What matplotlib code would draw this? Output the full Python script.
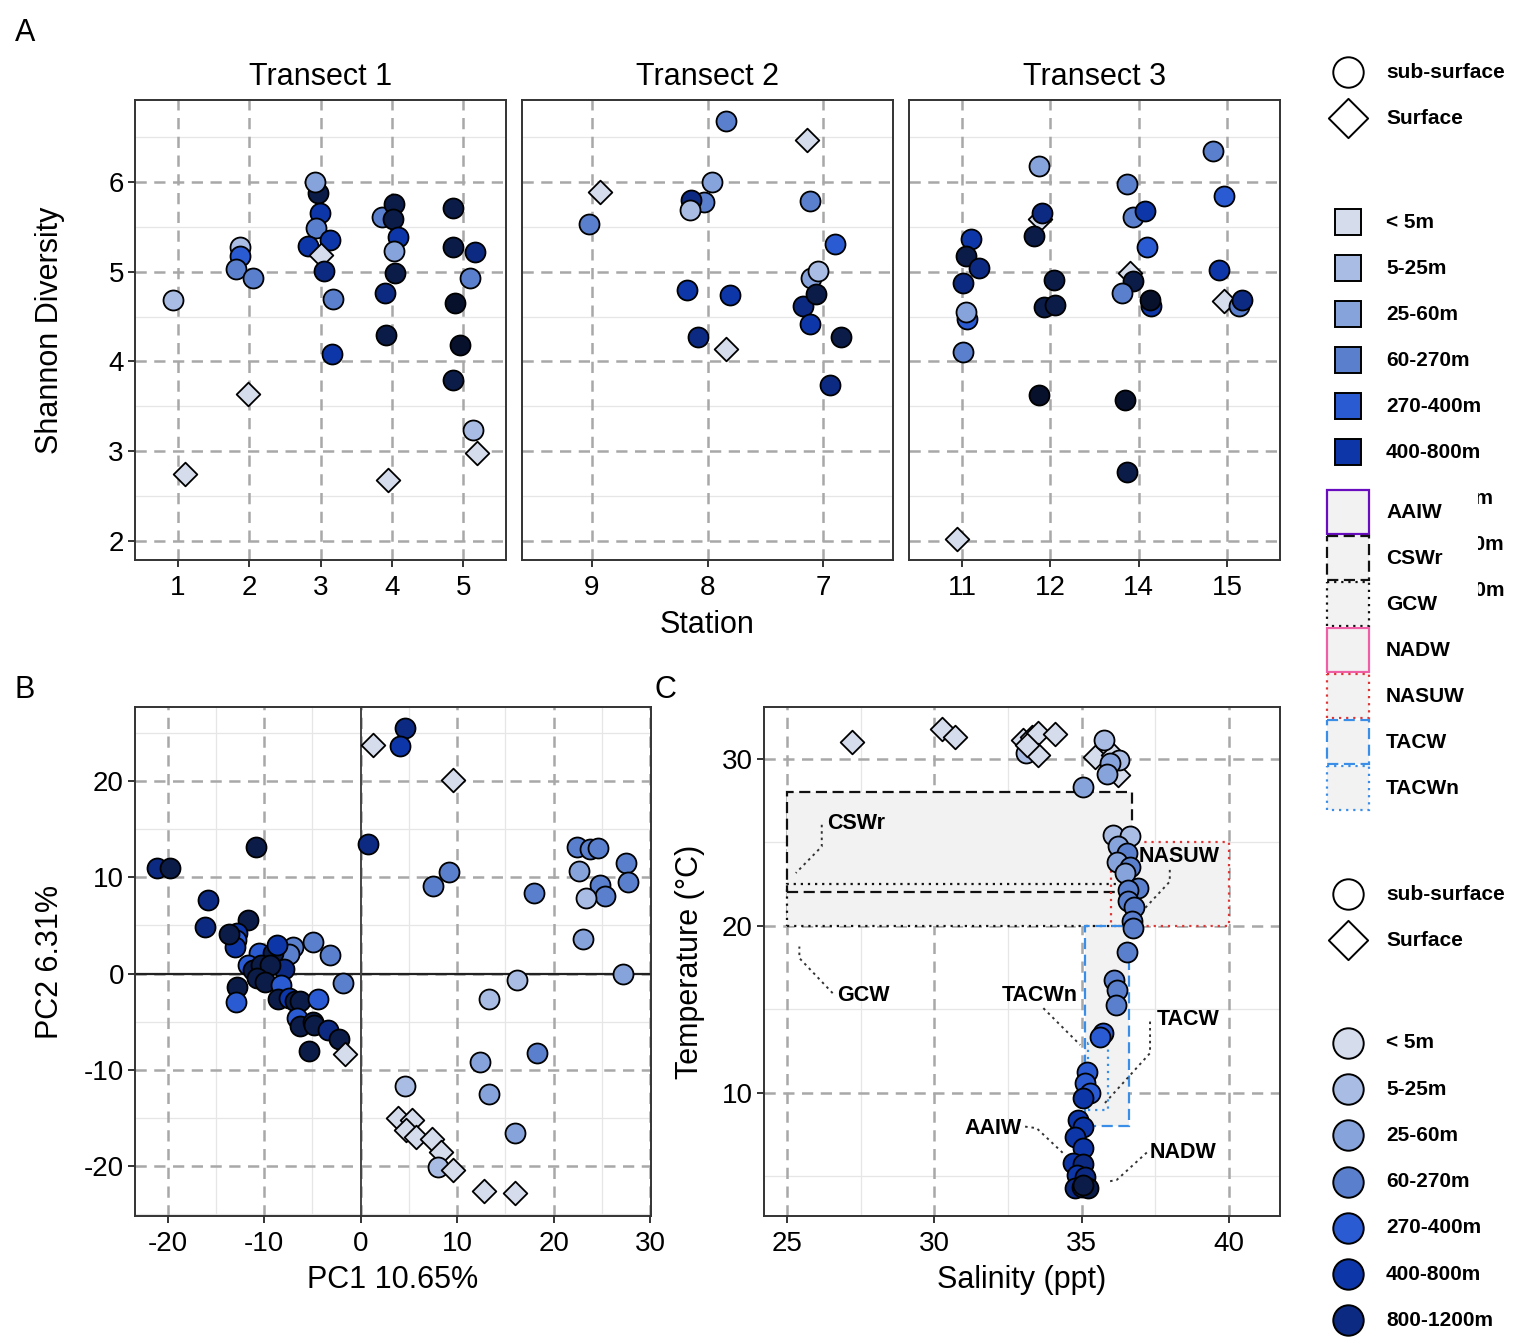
import matplotlib
matplotlib.use('Agg')
import matplotlib.pyplot as plt
from matplotlib.patches import Rectangle
import numpy as np

plt.rcParams['font.family'] = ['Liberation Sans', 'DejaVu Sans']
plt.rcParams['axes.unicode_minus'] = False

# ---------------- data ----------------
depth_levels = ['< 5m', '5-25m', '25-60m', '60-270m', '270-400m', '400-800m',
                '800-1200m', '1200-2000m', '2000-4000m']
depth_colors = ['#d5dcec', '#a9bce3', '#87a3dc', '#5a7fcc', '#2a5bd3', '#0d37a8',
                '#0c2a82', '#0b1c48', '#08112b']
sample_types = ['sub-surface', 'Surface']

transect_names = ['Transect 1', 'Transect 2', 'Transect 3']
transect_stations = [['1', '2', '3', '4', '5'], ['9', '8', '7'], ['11', '12', '14', '15']]

# Panel A: (station position incl. jitter, Shannon diversity, depth code, surface flag)
t1_x = [0.93, 1.10, 1.87, 1.87, 1.81, 2.06, 1.99,
        2.96, 2.92, 2.99, 2.94, 2.82, 3.14, 3.01, 3.05, 3.18, 3.16,
        3.86, 4.03, 4.01, 4.08, 4.03, 4.05, 3.90, 3.92, 3.95,
        4.86, 4.86, 5.16, 5.10, 4.89, 4.96, 4.86, 5.14, 5.20]
t1_y = [4.68, 2.75, 5.27, 5.17, 5.03, 4.93, 3.64,
        5.87, 6.00, 5.65, 5.49, 5.29, 5.35, 5.19, 5.01, 4.69, 4.08,
        5.61, 5.75, 5.58, 5.39, 5.23, 4.98, 4.76, 4.29, 2.68,
        5.71, 5.27, 5.22, 4.93, 4.65, 4.18, 3.79, 3.24, 2.98]
t1_d = [1, 0, 1, 4, 3, 3, 0,
        7, 2, 5, 3, 5, 5, 0, 6, 3, 5,
        3, 7, 7, 5, 2, 7, 6, 7, 0,
        7, 7, 6, 3, 8, 8, 7, 1, 0]
t1_s = [0, 1, 0, 0, 0, 0, 1,
        0, 0, 0, 0, 0, 0, 1, 0, 0, 0,
        0, 0, 0, 0, 0, 0, 0, 0, 1,
        0, 0, 0, 0, 0, 0, 0, 0, 1]

t2_x = [2.16, 2.86, 2.04, 1.07, 1.97, 1.86, 1.85, 2.88, 0.98, 3.10, 2.89, 2.95,
        2.82, 2.94, 2.88, 3.15, 1.82, 2.19, 1.92, 2.16, 3.06]
t2_y = [6.68, 6.47, 6.00, 5.89, 5.78, 5.80, 5.69, 5.79, 5.53, 5.31, 4.93, 5.01,
        4.62, 4.75, 4.42, 4.27, 4.80, 4.74, 4.27, 4.14, 3.74]
t2_d = [3, 0, 2, 0, 3, 6, 1, 3, 3, 4, 2, 1, 6, 7, 5, 7, 5, 5, 6, 0, 6]
t2_s = [0, 1, 0, 1, 0, 0, 0, 0, 0, 0, 0, 0, 0, 0, 0, 0, 0, 0, 0, 1, 0]

t3_x = [3.84, 1.87, 2.87, 3.97, 2.94, 3.07, 1.88, 1.91, 1.82, 1.10, 1.04, 1.19,
        1.01, 1.06, 1.04, 1.01, 2.04, 1.93, 2.05, 1.87, 2.90, 2.94, 2.81, 3.14,
        3.13, 3.09, 3.91, 3.97, 4.14, 4.17, 2.84, 2.87, 0.94]
t3_y = [6.34, 6.17, 5.97, 5.84, 5.61, 5.68, 5.58, 5.65, 5.40, 5.36, 5.17, 5.04,
        4.87, 4.47, 4.55, 4.10, 4.91, 4.61, 4.63, 3.63, 4.98, 4.90, 4.76, 4.62,
        4.68, 5.27, 5.02, 4.67, 4.62, 4.68, 3.57, 2.77, 2.02]
t3_d = [3, 2, 3, 4, 3, 5, 0, 6, 7, 5, 7, 6,
        6, 4, 2, 3, 7, 7, 7, 8, 0, 7, 3, 5,
        8, 4, 5, 0, 3, 6, 8, 7, 0]
t3_s = [0, 0, 0, 0, 0, 0, 1, 0, 0, 0, 0, 0,
        0, 0, 0, 0, 0, 0, 0, 0, 1, 0, 0, 0,
        0, 0, 0, 1, 0, 0, 0, 0, 1]

# Panel B: PCA scores
pc1 = [-21.1, -19.8, -10.9, -15.8, -16.1, -11.7, -12.8, -12.9, -13.0, -13.7,
       -7.0, -7.4, -4.9, -3.2, -1.8, -10.5, -9.1, -8.7, -11.7, -11.2,
       -10.3, -8.0, -9.4, -10.7, -9.9, -8.3, -12.8, -12.9, -8.6, -7.4,
       -6.8, -6.3, -4.4, -6.6, -6.3, -4.9, -4.8, -3.4, -2.2, -5.4,
       -1.6, 1.3, 4.56, 4.1, 9.6, 0.8, 9.2, 7.5, 18.0, 22.4,
       23.8, 24.6, 27.5, 22.6, 24.8, 27.7, 25.3, 23.4, 23.0, 27.2,
       16.2, 13.3, 18.3, 12.4, 13.3, 16.0, 4.6, 3.9, 5.3, 4.7,
       5.7, 7.4, 8.3, 8.0, 9.6, 12.8, 16.0]
pc2 = [11.0, 11.0, 13.2, 7.6, 4.8, 5.6, 4.2, 3.5, 2.8, 4.1,
       2.8, 2.0, 3.3, 1.9, -1.0, 2.1, 2.1, 3.0, 0.9, 0.4,
       0.9, 0.5, 0.9, -0.5, -0.9, -1.2, -1.4, -3.0, -2.6, -2.5,
       -2.9, -2.9, -2.6, -4.6, -5.5, -5.0, -5.3, -5.9, -6.8, -8.0,
       -8.4, 23.7, 25.5, 23.6, 20.1, 13.5, 10.5, 9.1, 8.4, 13.2,
       12.9, 13.0, 11.5, 10.7, 9.2, 9.5, 8.1, 7.8, 3.6, -0.1,
       -0.7, -2.6, -8.3, -9.2, -12.5, -16.6, -11.7, -15.0, -15.2, -16.3,
       -17.0, -17.2, -18.6, -20.1, -20.4, -22.6, -22.8]
pc_d = [6, 7, 7, 6, 6, 7, 5, 4, 5, 7,
        3, 3, 3, 3, 3, 4, 7, 5, 4, 7,
        7, 6, 7, 7, 7, 4, 7, 4, 7, 5,
        7, 7, 4, 4, 7, 7, 7, 6, 7, 7,
        0, 0, 6, 5, 0, 6, 3, 3, 3, 3,
        3, 3, 3, 2, 3, 3, 3, 1, 2, 2,
        1, 1, 3, 2, 2, 2, 1, 0, 0, 0,
        0, 0, 0, 1, 0, 0, 0]
pc_s = [0] * 40 + [1, 1, 0, 0, 1] + [0] * 22 + [1, 1, 1, 1, 1, 1, 0, 1, 1, 1]

# Panel C: T-S
sal = [27.2, 30.25, 30.7, 33.11, 33.02, 33.3, 33.53, 34.09, 33.53, 33.13,
       35.45, 36.07, 36.24, 35.76, 36.28, 35.96, 35.85, 35.05,
       36.07, 36.64, 36.24, 36.53, 36.19, 36.64, 36.47, 36.92, 36.58, 36.58,
       36.78, 36.70, 36.73, 36.53, 36.11, 36.19, 36.15, 35.73, 35.62,
       35.17, 35.11, 35.28, 35.05, 34.89, 35.03, 34.77, 35.03, 34.72, 35.03,
       34.83, 35.11, 34.77, 35.00, 35.22, 35.03]
temp = [30.98, 31.78, 31.30, 30.34, 31.10, 31.30, 31.54, 31.50, 30.24, 30.80,
        30.10, 30.24, 29.04, 31.14, 29.94, 29.74, 29.10, 28.30,
        25.45, 25.35, 24.75, 24.35, 23.85, 23.55, 23.16, 22.26, 22.12, 21.46,
        21.12, 20.26, 19.90, 18.46, 16.77, 16.17, 15.27, 13.57, 13.33,
        11.28, 10.58, 9.98, 9.68, 8.38, 7.98, 7.38, 6.69, 5.79, 5.75,
        5.09, 4.99, 4.29, 4.35, 4.29, 4.49]
ts_d = [0, 0, 0, 1, 0, 0, 0, 0, 0, 0,
        0, 0, 0, 1, 1, 2, 2, 2,
        1, 1, 2, 3, 2, 3, 2, 3, 3, 3,
        3, 3, 3, 3, 3, 3, 3, 4, 4,
        4, 4, 4, 5, 5, 5, 5, 5, 5, 6,
        5, 6, 6, 6, 7, 7]
ts_s = [1, 1, 1, 0, 1, 1, 1, 1, 1, 1,
        1, 1, 1, 0, 0, 0, 0, 0] + [0] * 35

# Water masses (salinity min/max, temperature min/max)
wm_names = ['AAIW', 'CSWr', 'GCW', 'NADW', 'NASUW', 'TACW', 'TACWn']
wm_colors = ['#6a0dc0', '#111111', '#111111', '#ee5fa7', '#e03535', '#3a8ee8', '#3a8ee8']
wm_styles = ['solid', 'dashed', 'dotted', 'solid', 'dotted', 'dashed', 'dotted']
wm_smin = [None, 25.0, 25.0, None, 36.0, 35.1, 35.2]
wm_smax = [None, 36.7, 36.5, None, 40.0, 36.6, 35.9]
wm_tmin = [None, 22.0, 20.0, None, 20.0, 8.0, 9.0]
wm_tmax = [None, 28.0, 22.5, None, 25.0, 20.0, 13.0]
# label positions and leader paths (salinity, temperature)
lab_names = ['CSWr', 'GCW', 'NASUW', 'TACWn', 'TACW', 'AAIW', 'NADW']
lab_s = [26.35, 26.7, 36.92, 34.87, 37.55, 32.96, 37.32]
lab_t = [26.1, 15.8, 24.15, 15.8, 14.37, 7.89, 6.45]
lab_ha = ['left', 'left', 'left', 'right', 'left', 'right', 'left']
lead_s = [[26.18, 26.18, 25.3], [26.55, 25.42, 25.42], [37.99, 37.99, 37.15],
          [33.70, 34.95], [37.32, 37.32, 35.73], [33.08, 33.47, 34.43],
          [37.21, 36.19, 35.9]]
lead_t = [[26.05, 24.75, 23.16], [15.97, 18.07, 18.76], [23.35, 22.65, 21.06],
          [15.07, 12.87], [14.27, 12.38, 9.28], [7.98, 7.89, 6.29],
          [6.43, 4.79, 4.69]]

# ---------------- figure ----------------
W, H = 1536, 1344
fig = plt.figure(figsize=(W / 100, H / 100), dpi=100)

def rect(x0, y0, x1, y1):
    return [x0 / W, 1 - y1 / H, (x1 - x0) / W, (y1 - y0) / H]

GRID_MAJ = dict(color='#a8a8a8', lw=1.8, ls=(0, (4.5, 3)), zorder=0.5)
GRID_MIN = dict(color='#e6e6e6', lw=0.9, zorder=0.4)
TICK_FS = 20
TITLE_FS = 22

def style_axes(ax):
    for sp in ax.spines.values():
        sp.set_color('#333333')
        sp.set_linewidth(1.4)
    ax.tick_params(length=5, width=1.4, color='#333333', labelsize=TICK_FS,
                   labelcolor='black')
    ax.tick_params(axis='x', pad=6)
    ax.tick_params(axis='y', pad=3)

def draw_points(ax, xs, ys, ds, ss, circ_s=207, dia_s=145):
    for x, y, d, s in zip(xs, ys, ds, ss):
        ax.scatter([x], [y], s=dia_s if s else circ_s, marker='D' if s else 'o',
                   facecolor=depth_colors[d], edgecolor='black', linewidths=1.3,
                   zorder=3)

# Panel A
facet_px = [(135, 506), (522, 893), (909, 1280)]
tdata = [(t1_x, t1_y, t1_d, t1_s), (t2_x, t2_y, t2_d, t2_s), (t3_x, t3_y, t3_d, t3_s)]
ylimA = (1.79, 6.91)
for i, ((x0, x1), stations, name, dat) in enumerate(zip(facet_px, transect_stations,
                                                       transect_names, tdata)):
    ax = fig.add_axes(rect(x0, 100, x1, 560))
    n = len(stations)
    ax.set_xlim(0.4, n + 0.6)
    ax.set_ylim(*ylimA)
    for yv in np.arange(2.5, 7.0, 1.0):
        ax.axhline(yv, **GRID_MIN)
    for yv in range(2, 7):
        ax.axhline(yv, **GRID_MAJ)
    for xv in range(1, n + 1):
        ax.axvline(xv, **GRID_MAJ)
    draw_points(ax, *dat)
    ax.set_xticks(range(1, n + 1))
    ax.set_xticklabels(stations)
    ax.set_yticks(range(2, 7))
    style_axes(ax)
    if i > 0:
        ax.tick_params(axis='y', left=False, labelleft=False)
    ax.text(0.5, 1 + 23 / 460, name, transform=ax.transAxes, ha='center',
            va='center', fontsize=TITLE_FS)

fig.text(50 / W, 1 - 330 / H, 'Shannon Diversity', rotation=90, ha='center',
         va='center', fontsize=TITLE_FS)
fig.text(707 / W, 1 - 625 / H, 'Station', ha='center', va='center', fontsize=TITLE_FS)

# Panel B
axB = fig.add_axes(rect(135, 707, 651, 1216))
axB.set_xlim(-23.4, 30.1)
axB.set_ylim(-25.2, 27.7)
for v in [-15, -5, 5, 15, 25]:
    axB.axvline(v, **GRID_MIN)
for v in [-25, -15, -5, 5, 15, 25]:
    axB.axhline(v, **GRID_MIN)
for v in [-20, -10, 0, 10, 20, 30]:
    axB.axvline(v, **GRID_MAJ)
for v in [-20, -10, 0, 10, 20]:
    axB.axhline(v, **GRID_MAJ)
axB.axhline(0, color='#222222', lw=1.6, zorder=1)
axB.axvline(0, color='#444444', lw=1.4, zorder=1)
draw_points(axB, pc1, pc2, pc_d, pc_s)
axB.set_xticks([-20, -10, 0, 10, 20, 30])
axB.set_yticks([-20, -10, 0, 10, 20])
style_axes(axB)
fig.text(393 / W, 1 - 1280 / H, 'PC1 10.65%', ha='center', va='center', fontsize=TITLE_FS)
fig.text(50 / W, 1 - 962 / H, 'PC2 6.31%', rotation=90, ha='center', va='center',
         fontsize=TITLE_FS)

# Panel C
axC = fig.add_axes(rect(764, 707, 1280, 1216))
axC.set_xlim(24.22, 41.73)
axC.set_ylim(2.63, 33.1)
for v in [27.5, 32.5, 37.5]:
    axC.axvline(v, **GRID_MIN)
for v in [5, 15, 25]:
    axC.axhline(v, **GRID_MIN)
for v in [25, 30, 35, 40]:
    axC.axvline(v, **GRID_MAJ)
for v in [10, 20, 30]:
    axC.axhline(v, **GRID_MAJ)

def ls_of(style):
    if style == 'dashed':
        return (0, (5, 2.5))
    if style == 'dotted':
        return (0, (1, 2.2))
    return 'solid'

for nm, c, st, s0, s1, t0, t1 in zip(wm_names, wm_colors, wm_styles, wm_smin, wm_smax,
                                      wm_tmin, wm_tmax):
    if s0 is None:
        continue
    axC.add_patch(Rectangle((s0, t0), s1 - s0, t1 - t0, facecolor='#f2f2f2',
                            edgecolor='none', zorder=0.8))
for nm, c, st, s0, s1, t0, t1 in zip(wm_names, wm_colors, wm_styles, wm_smin, wm_smax,
                                      wm_tmin, wm_tmax):
    if s0 is None:
        continue
    axC.add_patch(Rectangle((s0, t0), s1 - s0, t1 - t0, facecolor='none',
                            edgecolor=c, lw=1.6, ls=ls_of(st), zorder=1.2))

for ls_, lt_ in zip(lead_s, lead_t):
    axC.plot(ls_, lt_, color='#333333', lw=1.4, ls=(0, (1.3, 2)), zorder=1.5)
draw_points(axC, sal, temp, ts_d, ts_s)
for nm, x, y, ha in zip(lab_names, lab_s, lab_t, lab_ha):
    axC.text(x, y, nm, ha=ha, va='center', fontsize=15.5, fontweight='bold', zorder=4)

axC.set_xticks([25, 30, 35, 40])
axC.set_yticks([10, 20, 30])
style_axes(axC)
fig.text(1022 / W, 1 - 1280 / H, 'Salinity (ppt)', ha='center', va='center',
         fontsize=TITLE_FS)
fig.text(690 / W, 1 - 962 / H, 'Temperature (°C)', rotation=90, ha='center',
         va='center', fontsize=TITLE_FS)

# Panel letters
fig.text(25 / W, 1 - 33 / H, 'A', ha='center', va='center', fontsize=TITLE_FS)
fig.text(25 / W, 1 - 690 / H, 'B', ha='center', va='center', fontsize=TITLE_FS)
fig.text(665 / W, 1 - 690 / H, 'C', ha='center', va='center', fontsize=TITLE_FS)

# ---------------- legends (overlay in pixel coords) ----------------
lg = fig.add_axes([0, 0, 1, 1], zorder=10)
lg.set_xlim(0, W)
lg.set_ylim(H, 0)
lg.axis('off')
KX, TX, LFS = 1348, 1386, 15

def shape_legend(y0):
    for j, nm in enumerate(sample_types):
        y = y0 + 46 * j
        if nm == 'Surface':
            lg.scatter([KX], [y], s=400, marker='D', facecolor='white',
                       edgecolor='black', linewidths=1.4)
        else:
            lg.scatter([KX], [y], s=480, marker='o', facecolor='white',
                       edgecolor='black', linewidths=1.4)
        lg.text(TX, y, nm, ha='left', va='center', fontsize=LFS, fontweight='bold')

shape_legend(72)
for j, (nm, c) in enumerate(zip(depth_levels, depth_colors)):
    y = 222 + 46 * j
    lg.add_patch(Rectangle((KX - 13, y - 13), 26, 26, facecolor=c, edgecolor='black',
                           lw=1.4, zorder=2))
    lg.text(TX, y, nm, ha='left', va='center', fontsize=LFS, fontweight='bold',
            zorder=3)

# water mass legend drawn over the lower part of the depth legend (white background)
lg.add_patch(Rectangle((1318, 480), 160, 335, facecolor='white', edgecolor='none',
                       zorder=5))
for j, (nm, c, st) in enumerate(zip(wm_names, wm_colors, wm_styles)):
    y = 512 + 46 * j
    lg.add_patch(Rectangle((KX - 21, y - 22), 42, 44, facecolor='#f2f2f2',
                           edgecolor=c, lw=1.6, ls=ls_of(st), zorder=6))
    lg.text(TX, y, nm, ha='left', va='center', fontsize=LFS, fontweight='bold',
            zorder=7)

shape_legend(894)
for j in range(7):
    y = 1043 + 46.2 * j
    lg.scatter([KX], [y], s=480, marker='o', facecolor=depth_colors[j],
               edgecolor='black', linewidths=1.4)
    lg.text(TX, y, depth_levels[j], ha='left', va='center', fontsize=LFS,
            fontweight='bold')

fig.savefig('out.png', dpi=100)
